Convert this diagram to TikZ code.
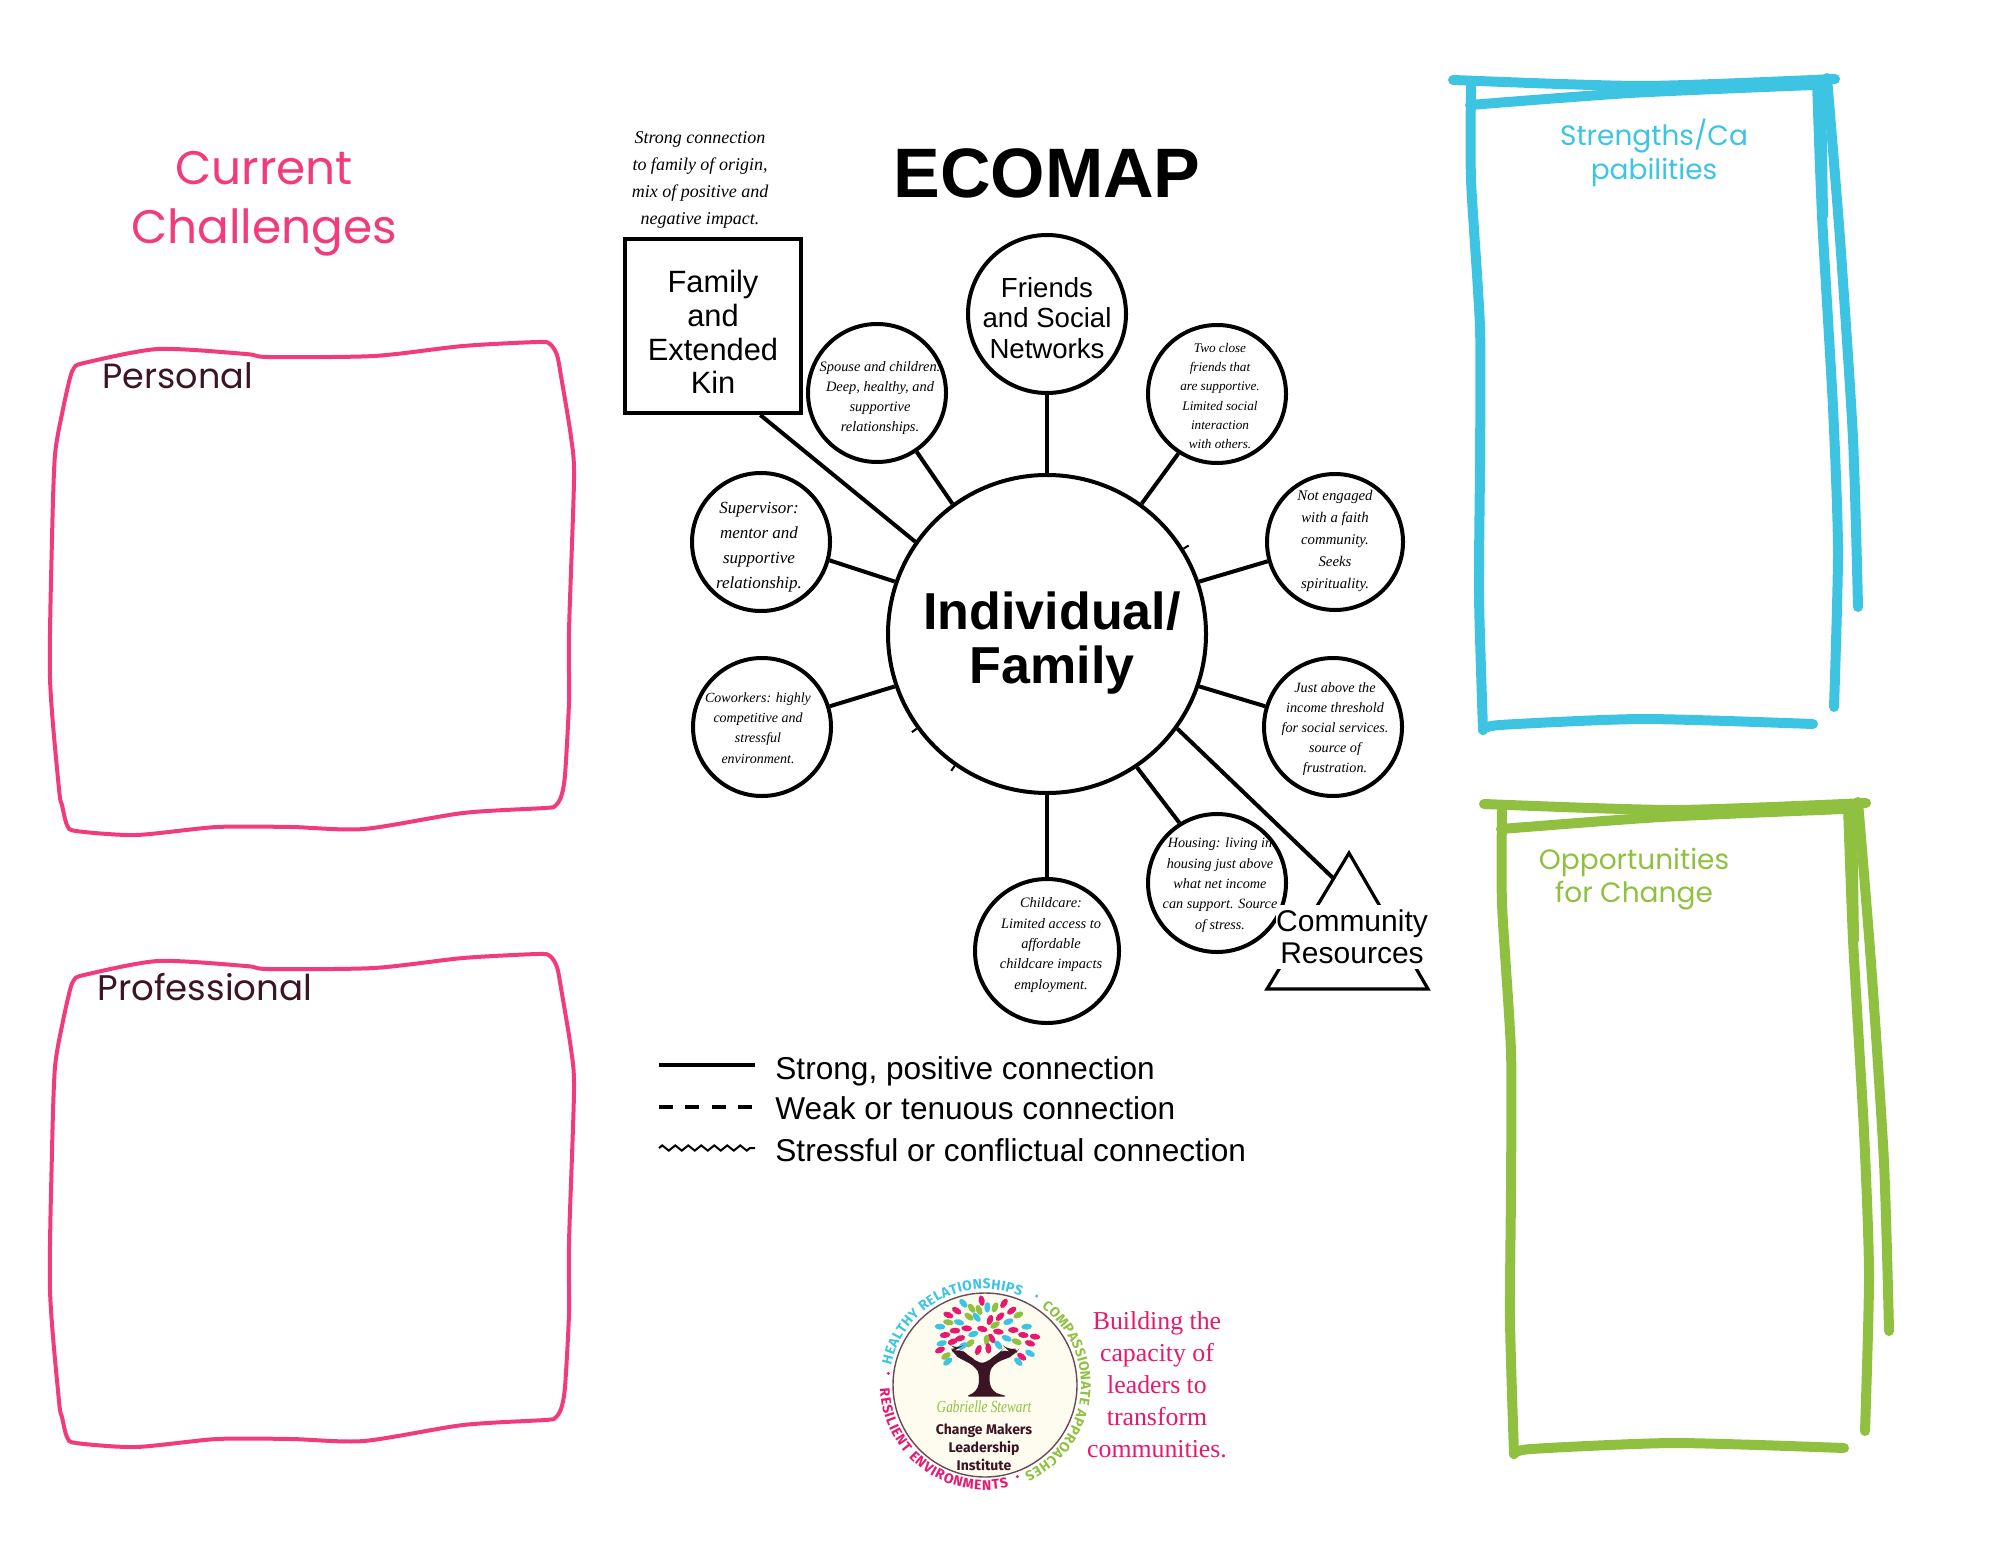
\documentclass[tikz,border=0pt]{standalone}
\usepackage{fontspec}
\setmainfont{Liberation Sans}
\newfontfamily\notefont{Liberation Serif}
\newfontfamily\handfont{Poppins}
\newfontfamily\ringfont{Fira Sans}
\usetikzlibrary{calc,decorations.text,decorations.pathmorphing}
\tikzset{
  circ/.style={circle,draw=black,fill=white,line width=2pt,inner sep=0pt},
  link/.style={draw=black,line width=2pt},
  sketch/.style={line width=5pt,line cap=round,line join=round},
  hand/.style={inner sep=0pt,align=center,font=\handfont\fontsize{#1}{#1}\selectfont},
  plain/.style={inner sep=0pt,align=center},
}
\begin{document}
\begin{tikzpicture}[x=0.5pt,y=-0.5pt,font=\rmfamily\fontsize{8}{8.8}\selectfont]
  \definecolor{cpink}{HTML}{F23B7C}
  \definecolor{cdark}{HTML}{3D1425}
  \definecolor{ccyan}{HTML}{3EC4E3}
  \definecolor{cgreen}{HTML}{90C040}
  \definecolor{crose}{HTML}{E8186E}
  \definecolor{ccream}{HTML}{FDFCEF}
  \definecolor{cring}{HTML}{6B4A55}
  \path[use as bounding box] (0,0) rectangle (2000,1545);

  \node[hand=23.5,text=cpink,font=\handfont\fontsize{23.5}{29.5}\selectfont] (challenges) at (264,204) {Current\\Challenges};
  \foreach \dy in {0,612}{
    \draw[cpink,line width=2pt,shift={(0,\dy)}] plot[smooth cycle,tension=0.45] coordinates {
      (70,378) (74,368) (84,363) (158,349) (246,354) (268,357) (374,356) (463,346) (538,342)
      (550,344) (557,355) (561,376) (571,437) (574,479) (569,631) (569,701) (565,775) (561,797)
      (555,806) (545,808) (463,813) (364,829) (291,827) (217,827) (136,835) (76,831) (67,825)
      (62,805) (59,789) (50,678) (52,539) (55,455) (63,409)};
  }
  \node[hand=17.5,text=cdark,anchor=west] (personal) at (102,376) {Personal};
  \node[hand=17.8,text=cdark,anchor=west] (professional) at (97,987) {Professional};

  \foreach \dx/\dy/\c in {0/0/ccyan,31/724/cgreen}{
    \begin{scope}[shift={(\dx,\dy)},\c]
      \draw[sketch] plot[smooth,tension=0.4] coordinates {(1453,80) (1643,86) (1835,79)};
      \draw[sketch] plot[smooth,tension=0.4] coordinates {(1470,105) (1630,93) (1813,85)};
      \draw[sketch] plot[smooth,tension=0.4] coordinates {(1471,87) (1471,180) (1480,328) (1480,462) (1479,596) (1483,730)};
      \draw[sketch] plot[smooth,tension=0.4] coordinates {(1483,730) (1500,725) (1643,719) (1813,724)};
      \draw[sketch] plot[smooth,tension=0.4] coordinates {(1817,82) (1822,216) (1833,408) (1838,551) (1834,707)};
      \draw[sketch] plot[smooth,tension=0.4] coordinates {(1827,78) (1840,239) (1853,439) (1858,607)};
      \draw[sketch] (1821,87) -- (1823,216);
    \end{scope}
  }
  \node[hand=14.3,text=ccyan,font=\handfont\fontsize{14}{17}\selectfont] (strengths) at (1654,153) {Strengths/Ca\\pabilities};
  \node[hand=14.3,text=cgreen,font=\handfont\fontsize{14}{16.5}\selectfont] (opportunities) at (1634,879) {Opportunities\\for Change};

  \node[plain,font=\bfseries\fontsize{35}{36}\selectfont] (title) at (1047,173) {ECOMAP};
  \node[plain,font=\notefont\itshape\fontsize{9}{13.5}\selectfont] (familynote) at (700,180)
    {Strong connection\\to family of origin,\\mix of positive and\\negative impact.};

  \node[circ,minimum size=159pt] (hub) at (1047,634) {};
  \node[plain,font=\bfseries\fontsize{26}{27}\selectfont] (hubtext) at (1052,643) {Individual/\\Family};
  \node[draw=black,line width=2pt,minimum width=88pt,minimum height=87pt,inner sep=0pt] (family) at (713,326) {};
  \node[plain,font=\fontsize{15.4}{16.9}\selectfont] (familytext) at (713,332) {Family\\and\\Extended\\Kin};
  \node[circ,minimum size=79pt] (friends) at (1047,314) {};
  \node[plain,font=\fontsize{13.8}{15.3}\selectfont] (friendstext) at (1047,318) {Friends\\and Social\\Networks};

  \foreach \n/\x/\y/\sz/\tx/\ty/\fs/\ls/\t in {
    spouse/877/393/69/880/398/7.2/10.1/{Spouse and children.\\Deep, healthy, and\\supportive\\relationships.},
    supervisor/761/542/69/759/547/8.5/12.5/{Supervisor:\\mentor and\\supportive\\relationship.},
    coworkers/762/727/69/758/728/7/10.2/{Coworkers: highly\\competitive and\\stressful\\environment.},
    childcare/1047/951/72/1051/945/7.2/10.2/{Childcare:\\Limited access to\\affordable\\childcare impacts\\employment.},
    closefriends/1217/394/69/1220/396/6.6/9.6/{Two close\\friends that\\are supportive.\\Limited social\\interaction\\with others.},
    faith/1335/542/68/1335/541/7.4/11/{Not engaged\\with a faith\\community.\\Seeks\\spirituality.},
    income/1333/727/69/1335/729/7.1/10.1/{Just above the\\income threshold\\for social services.\\source of\\frustration.},
    housing/1217/883/69/1220/885/7.1/10.2/{Housing: living in\\housing just above\\what net income\\can support. Source\\of stress.}}{
    \node[circ,minimum size=\sz pt] (\n) at (\x,\y) {};
    \node[plain,font=\notefont\itshape\fontsize{\fs}{\ls}\selectfont] (\n text) at (\tx,\ty) {\t};
  }

  \coordinate (apex) at (1349,853);
  \coordinate (baseleft) at (1267,989);
  \coordinate (baseright) at (1428,989);
  \coordinate (commjoin) at (1333,878);
  \draw[line width=1.6pt,line join=miter] (apex) -- (baseright) -- (baseleft) -- cycle;
  \node[plain,fill=white,minimum width=76pt,minimum height=32pt,
        font=\fontsize{15}{16}\selectfont] (community) at (1352,937) {Community\\Resources};

  \path[link] (hub.145) -- (family.-62);
  \path[link] (hub.126) -- (spouse.-56);
  \path[link] (hub.north) -- (friends.south);
  \path[link] (hub.54) -- (closefriends.-123);
  \path[link] (hub.19) -- (faith.196);
  \path[link] (hub.-19) -- (income.163);
  \path[link] (hub.-56) -- (housing.122);
  \path[link] (hub.-36.5) -- (commjoin);
  \path[link] (hub.south) -- (childcare.north);
  \path[link] (hub.161) -- (supervisor.-15);
  \path[link] (hub.199) -- (coworkers.17);
  \foreach \a in {32,216,235.5}{
    \draw[line width=1pt] (hub.\a) -- ++(\a:3pt);
  }

  \foreach \i/\y/\by/\t in {1/1065/1079/{Strong, positive connection},2/1107/1119/{Weak or tenuous connection},3/1148/1161/{Stressful or conflictual connection}}{
    \coordinate (leg\i a) at (659,\y);
    \coordinate (leg\i b) at (755,\y);
    \node[inner sep=0pt,anchor=base west,font=\fontsize{15.8}{17}\selectfont] (leg\i t) at (775,\by) {\t};
  }
  \draw[line width=2pt] (leg1a) -- (leg1b);
  \draw[line width=2pt,dash pattern=on 7pt off 6.2pt] (leg2a) -- (leg2b);
  \draw[line width=1pt,decorate,decoration={zigzag,segment length=6.5pt,amplitude=1.3pt}] (leg3a) -- (leg3b);

  \node[circle,draw=cring,fill=ccream,line width=0.7pt,minimum size=92pt,inner sep=0pt] (logo) at (985,1385) {};
  \path[decorate,decoration={text along path,text align={fit to path},
      text={|\ringfont\bfseries\fontsize{7}{7}\selectfont\color{ccyan}|HEALTHY RELATIONSHIPS}}]
    ($(logo.center)+(168:48pt)$) arc[start angle=168,end angle=68,radius=48pt];
  \path[decorate,decoration={text along path,text align={fit to path},
      text={|\ringfont\bfseries\fontsize{7}{7}\selectfont\color{cgreen}|COMPASSIONATE APPROACHES}}]
    ($(logo.center)+(54:48pt)$) arc[start angle=54,end angle=-66,radius=48pt];
  \path[decorate,decoration={text along path,text align={fit to path},
      text={|\ringfont\bfseries\fontsize{7}{7}\selectfont\color{crose}|RESILIENT ENVIRONMENTS}}]
    ($(logo.center)+(182:52.5pt)$) arc[start angle=182,end angle=283,radius=52.5pt];
  \begin{scope}[shift={(860,1260)},scale=0.3333]
    \fill[ccyan] (530,108) circle[radius=5];
    \fill[crose] (472,650) circle[radius=5];
    \fill[crose] (85,340) circle[radius=5];
    \foreach \lx/\ly/\c in {
      310/130/ccyan,365/122/crose,432/130/crose,405/142/cgreen,382/142/ccyan,335/145/cgreen,
      290/152/crose,455/152/crose,357/150/cgreen,297/187/ccyan,390/180/crose,350/172/ccyan,
      265/165/crose,445/185/ccyan,420/170/crose,475/165/cgreen,327/170/cgreen,240/200/ccyan,
      500/200/ccyan,265/187/cgreen,320/205/crose,367/207/crose,415/215/crose,460/210/crose,
      405/195/cgreen,255/225/crose,285/212/crose,340/222/ccyan,490/225/crose,525/230/crose,
      300/235/crose,440/235/ccyan,395/235/crose,380/240/cgreen,510/250/crose,470/245/cgreen,
      330/250/cgreen,355/270/crose,245/250/ccyan,278/245/crose,415/255/ccyan,385/265/crose,
      240/270/crose,258/288/cgreen,510/280/ccyan,263/305/ccyan,475/305/ccyan,485/290/crose,
      308/258/ccyan}{
      \pgfmathsetmacro\rr{atan2(210-\ly,\lx-380)}
      \fill[\c,rotate around={\rr:(\lx,\ly)}] (\lx,\ly) ellipse[x radius=16,y radius=9];
    }
    \fill[cdark,rounded corners=4] (310,410) -- (352,397) -- (360,345) -- (350,322) -- (310,300) -- (280,285)
      -- (270,255) -- (290,268) -- (300,262) -- (320,285) -- (345,298) -- (368,318) -- (385,300) -- (420,278)
      -- (435,262) -- (445,272) -- (480,262) -- (465,285) -- (430,300) -- (400,310) -- (385,345) -- (395,397)
      -- (450,410) -- cycle;
  \end{scope}
  \node[plain,text=cgreen,font=\notefont\itshape\fontsize{8.5}{9}\selectfont] (maker) at (984,1407) {\scalebox{0.78}[1]{Gabrielle Stewart}};
  \node[plain,text=cdark,font=\ringfont\bfseries\fontsize{7}{8.9}\selectfont] (institute) at (984,1447) {Change Makers\\Leadership\\Institute};
  \node[plain,text=crose,font=\notefont\fontsize{12.9}{16}\selectfont] (motto) at (1157,1385) {Building the\\capacity of\\leaders to\\transform\\communities.};
\end{tikzpicture}
\end{document}
